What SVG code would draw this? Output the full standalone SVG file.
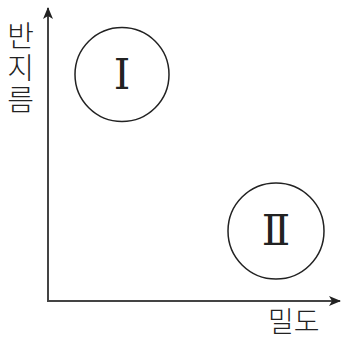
<svg xmlns="http://www.w3.org/2000/svg" width="342" height="339" viewBox="0 0 342 339">
<defs>
<marker id="arr" viewBox="0 0 12 10" refX="11" refY="5" markerWidth="12" markerHeight="10" markerUnits="userSpaceOnUse" orient="auto">
<path d="M0,0 L12,5 L0,10 L3,5 Z" fill="#222"/>
</marker>
</defs>
<style>
.ax{stroke:#444;stroke-width:2;fill:none}
.c{stroke:#222;stroke-width:1.5;fill:#fff}
.kr{font-family:"Noto Sans CJK KR","Noto Sans",sans-serif;font-weight:300;fill:#222}
.rn{font-family:"Liberation Serif","DejaVu Serif",serif;font-size:42px;fill:#222;text-anchor:middle}
</style>
<g id="connectors">
<line class="ax" x1="48" y1="302" x2="48" y2="8" marker-end="url(#arr)"/>
<line class="ax" x1="47" y1="301" x2="340" y2="301" marker-end="url(#arr)"/>
</g>
<g id="node-I">
<circle class="c" cx="122" cy="74.5" r="47"/>
<text class="rn" x="122" y="89">Ⅰ</text>
</g>
<g id="node-II">
<circle class="c" cx="276" cy="231" r="48"/>
<text class="rn" x="276" y="245">Ⅱ</text>
</g>
<g id="label-y">
<text class="kr" font-size="29" x="20.5" y="21" writing-mode="vertical-rl" letter-spacing="3" style="text-orientation:upright">반지름</text>
</g>
<g id="label-x">
<text class="kr" x="268" y="332" font-size="28">밀도</text>
</g>
</svg>
